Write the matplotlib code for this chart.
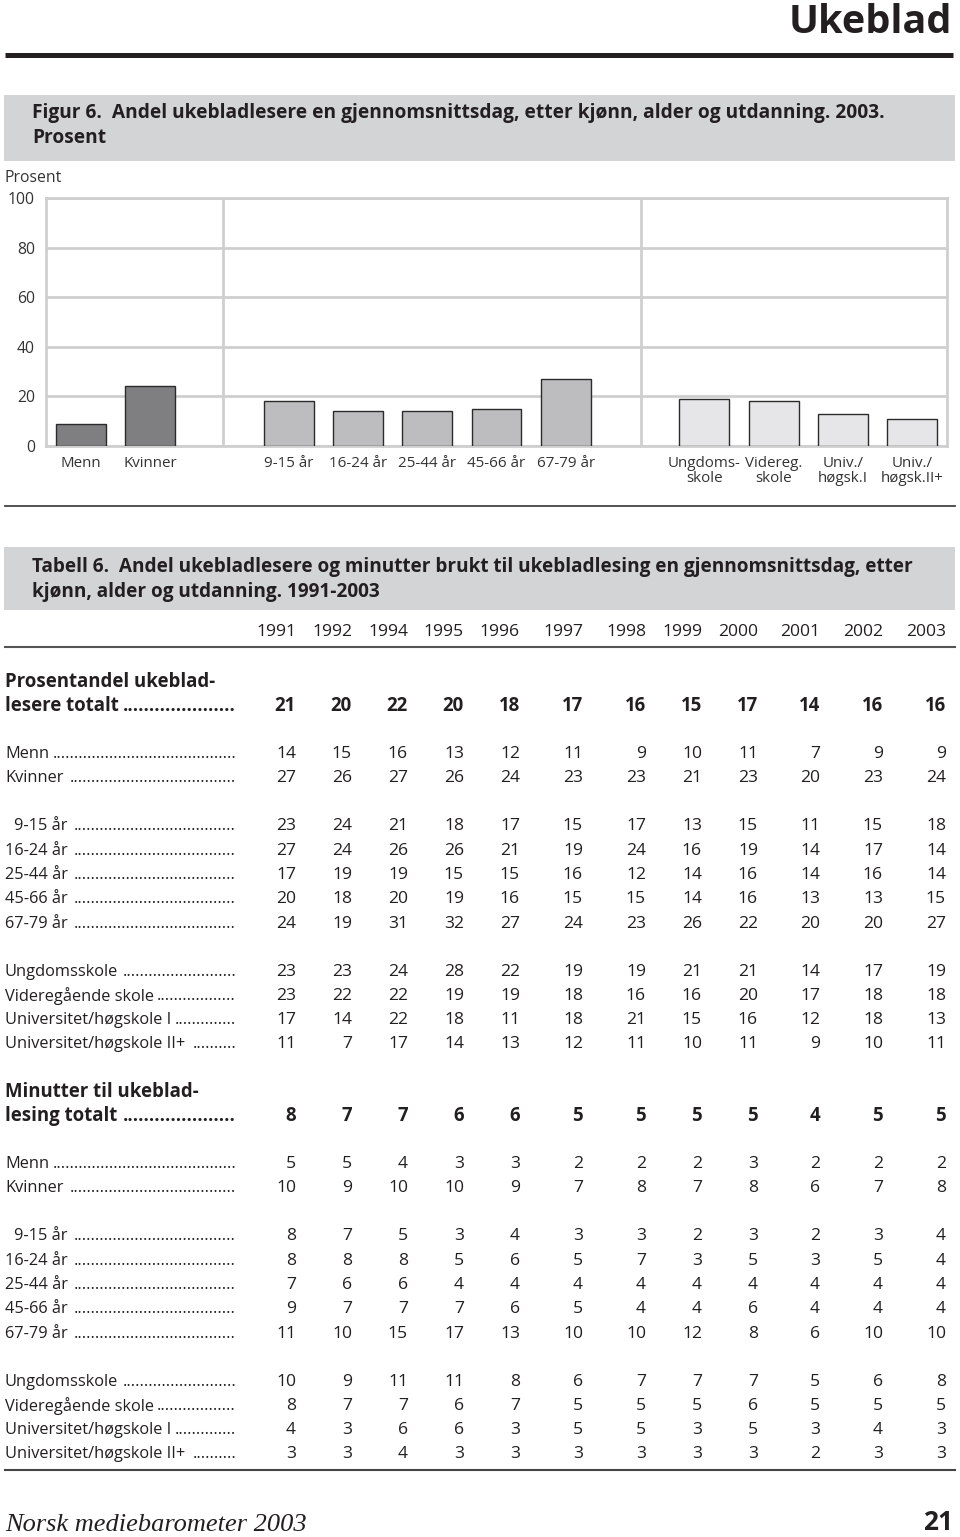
import matplotlib
matplotlib.use("Agg")
import matplotlib.pyplot as plt
from matplotlib.patches import Rectangle

# ---------------- data ----------------
chart_labels_gender = ["Menn", "Kvinner"]
chart_values_gender = [9, 24]
chart_labels_age = ["9-15 år", "16-24 år", "25-44 år", "45-66 år", "67-79 år"]
chart_values_age = [18, 14, 14, 15, 27]
chart_labels_edu = ["Ungdoms-\nskole", "Videreg.\nskole", "Univ./\nhøgsk.I", "Univ./\nhøgsk.II+"]
chart_values_edu = [19, 18, 13, 11]
y_ticks = [0, 20, 40, 60, 80, 100]

years = ["1991", "1992", "1994", "1995", "1996", "1997", "1998", "1999", "2000", "2001", "2002", "2003"]

pct_total = [21, 20, 22, 20, 18, 17, 16, 15, 17, 14, 16, 16]
pct_menn = [14, 15, 16, 13, 12, 11, 9, 10, 11, 7, 9, 9]
pct_kvinner = [27, 26, 27, 26, 24, 23, 23, 21, 23, 20, 23, 24]
pct_9_15 = [23, 24, 21, 18, 17, 15, 17, 13, 15, 11, 15, 18]
pct_16_24 = [27, 24, 26, 26, 21, 19, 24, 16, 19, 14, 17, 14]
pct_25_44 = [17, 19, 19, 15, 15, 16, 12, 14, 16, 14, 16, 14]
pct_45_66 = [20, 18, 20, 19, 16, 15, 15, 14, 16, 13, 13, 15]
pct_67_79 = [24, 19, 31, 32, 27, 24, 23, 26, 22, 20, 20, 27]
pct_ungdom = [23, 23, 24, 28, 22, 19, 19, 21, 21, 14, 17, 19]
pct_vgs = [23, 22, 22, 19, 19, 18, 16, 16, 20, 17, 18, 18]
pct_uni1 = [17, 14, 22, 18, 11, 18, 21, 15, 16, 12, 18, 13]
pct_uni2 = [11, 7, 17, 14, 13, 12, 11, 10, 11, 9, 10, 11]

min_total = [8, 7, 7, 6, 6, 5, 5, 5, 5, 4, 5, 5]
min_menn = [5, 5, 4, 3, 3, 2, 2, 2, 3, 2, 2, 2]
min_kvinner = [10, 9, 10, 10, 9, 7, 8, 7, 8, 6, 7, 8]
min_9_15 = [8, 7, 5, 3, 4, 3, 3, 2, 3, 2, 3, 4]
min_16_24 = [8, 8, 8, 5, 6, 5, 7, 3, 5, 3, 5, 4]
min_25_44 = [7, 6, 6, 4, 4, 4, 4, 4, 4, 4, 4, 4]
min_45_66 = [9, 7, 7, 7, 6, 5, 4, 4, 6, 4, 4, 4]
min_67_79 = [11, 10, 15, 17, 13, 10, 10, 12, 8, 6, 10, 10]
min_ungdom = [10, 9, 11, 11, 8, 6, 7, 7, 7, 5, 6, 8]
min_vgs = [8, 7, 7, 6, 7, 5, 5, 5, 6, 5, 5, 5]
min_uni1 = [4, 3, 6, 6, 3, 5, 5, 3, 5, 3, 4, 3]
min_uni2 = [3, 3, 4, 3, 3, 3, 3, 3, 3, 2, 3, 3]

# ---------------- style ----------------
SANS = ["Open Sans", "DejaVu Sans"]
TXT = "#231f20"
GRAYBOX = "#d3d4d6"
FS_LAB = 11.8    # row labels
FS_NUM = 12.6    # numbers / years
FSB = 13.4       # bold rows

W, H = 960, 1537
fig = plt.figure(figsize=(W / 100, H / 100), dpi=100)
ax0 = fig.add_axes([0, 0, 1, 1])
ax0.set_xlim(0, W)
ax0.set_ylim(H, 0)
ax0.axis("off")
renderer = fig.canvas.get_renderer()

# header
ax0.text(952, 33, "Ukeblad", ha="right", va="baseline", fontsize=28.5, fontweight="bold",
         family=SANS, color=TXT)
ax0.plot([5, 953], [54.5, 54.5], color=TXT, lw=3.6, solid_capstyle="butt")

# figure title box
ax0.add_patch(Rectangle((4, 95), 951, 66, facecolor=GRAYBOX, edgecolor="none"))
ax0.text(32, 113, "Figur 6.  Andel ukebladlesere en gjennomsnittsdag, etter kjønn, alder og utdanning. 2003.",
         ha="left", va="center", fontsize=13.8, fontweight="bold", family=SANS, color=TXT)
ax0.text(32, 138, "Prosent", ha="left", va="center", fontsize=13.8, fontweight="bold",
         family=SANS, color=TXT)

ax0.text(5, 178, "Prosent", ha="left", va="center", fontsize=11.3, family=SANS, color="#333333")

# ---------------- bar chart ----------------
ax = fig.add_axes([46 / W, 1 - 446 / H, (947 - 46) / W, (446 - 198) / H])
pos_gender = [0, 1]
pos_age = [3, 4, 5, 6, 7]
pos_edu = [9, 10, 11, 12]
bw = 0.72
ax.bar(pos_gender, chart_values_gender, width=bw, color="#7f7f82", edgecolor="#2b2b2b", lw=1.0, zorder=3)
ax.bar(pos_age, chart_values_age, width=bw, color="#bdbdbf", edgecolor="#2b2b2b", lw=1.0, zorder=3)
ax.bar(pos_edu, chart_values_edu, width=bw, color="#e6e6e8", edgecolor="#2b2b2b", lw=1.0, zorder=3)
ax.set_xlim(-0.5, 12.5)
ax.set_ylim(0, 100)
for yv in y_ticks:
    ax.axhline(yv, color="#cfcfcf", lw=2.0, zorder=1)
for xv in [2.05, 8.08]:
    ax.axvline(xv, color="#cfcfcf", lw=2.0, zorder=1)
for s in ax.spines.values():
    s.set_color("#cfcfcf")
    s.set_linewidth(2.0)
ax.set_yticks(y_ticks)
ax.set_yticklabels([str(v) for v in y_ticks], family=SANS, fontsize=11.3, color="#333333")
ax.set_xticks(pos_gender + pos_age + pos_edu)
ax.set_xticklabels(chart_labels_gender + chart_labels_age + chart_labels_edu,
                   family=SANS, fontsize=10.9, color="#333333", linespacing=1.05)
ax.tick_params(length=0)
ax.tick_params(axis="y", pad=8)
ax.tick_params(axis="x", pad=7)

ax0.plot([5, 955], [506, 506], color="#444444", lw=1.3)

# ---------------- table ----------------
ax0.add_patch(Rectangle((4, 547), 951, 63, facecolor=GRAYBOX, edgecolor="none"))
ax0.text(32, 567, "Tabell 6.  Andel ukebladlesere og minutter brukt til ukebladlesing en gjennomsnittsdag, etter",
         ha="left", va="center", fontsize=13.7, fontweight="bold", family=SANS, color=TXT)
ax0.text(32, 592, "kjønn, alder og utdanning. 1991-2003",
         ha="left", va="center", fontsize=13.7, fontweight="bold", family=SANS, color=TXT)

col_right = [296, 352, 408, 464, 520, 583, 646, 702, 758, 820, 883, 946]
for xr, yr in zip(col_right, years):
    ax0.text(xr, 632, yr, ha="right", va="center", fontsize=FS_NUM, family=SANS, color=TXT)
ax0.plot([5, 955], [647, 647], color="#555555", lw=1.5)

DOT_END = 236


def label_row(x, y, text, bold=False):
    kw = dict(fontsize=FSB if bold else FS_LAB, fontweight="bold" if bold else "normal",
              family=SANS, color=TXT, va="center")
    t = ax0.text(x, y, text, ha="left", **kw)
    bb = t.get_window_extent(renderer=renderer)
    probe = ax0.text(0, 0, "." * 40, ha="left", **kw)
    dw = probe.get_window_extent(renderer=renderer).width / 40
    probe.remove()
    start = bb.x1 + 3
    n = max(int((DOT_END - start) / dw), 2)
    ax0.text(DOT_END, y, "." * n, ha="right", **kw)


def values_row(y, vals, bold=False):
    for xr, v in zip(col_right, vals):
        ax0.text(xr, y, str(v), ha="right", va="center", fontsize=FSB if bold else FS_NUM,
                 fontweight="bold" if bold else "normal", family=SANS, color=TXT)


def block(y0, head1, head2, total, rows):
    ax0.text(5, y0, head1, ha="left", va="center", fontsize=FSB, fontweight="bold",
             family=SANS, color=TXT)
    label_row(5, y0 + 24, head2, bold=True)
    values_row(y0 + 24, total, bold=True)
    for (yy, xx, lab, vals) in rows:
        label_row(xx, y0 + yy, lab)
        values_row(y0 + yy, vals)


def rows_for(menn, kvinner, a1, a2, a3, a4, a5, e1, e2, e3, e4):
    return [
        (72, 5, "Menn", menn),
        (96.5, 5, "Kvinner", kvinner),
        (144.5, 14, "9-15 år", a1),
        (169, 5, "16-24 år", a2),
        (193, 5, "25-44 år", a3),
        (217, 5, "45-66 år", a4),
        (241.5, 5, "67-79 år", a5),
        (289.5, 5, "Ungdomsskole", e1),
        (314, 5, "Videregående skole", e2),
        (338, 5, "Universitet/høgskole I", e3),
        (362.5, 5, "Universitet/høgskole II+", e4),
    ]


block(682, "Prosentandel ukeblad-", "lesere totalt", pct_total,
      rows_for(pct_menn, pct_kvinner, pct_9_15, pct_16_24, pct_25_44, pct_45_66, pct_67_79,
               pct_ungdom, pct_vgs, pct_uni1, pct_uni2))
block(1092, "Minutter til ukeblad-", "lesing totalt", min_total,
      rows_for(min_menn, min_kvinner, min_9_15, min_16_24, min_25_44, min_45_66, min_67_79,
               min_ungdom, min_vgs, min_uni1, min_uni2))

ax0.plot([5, 955], [1470, 1470], color="#444444", lw=1.5)

# footer
ax0.text(5, 1536, "Norsk mediebarometer 2003", ha="left", va="bottom", fontsize=19,
         style="italic", family=["Liberation Serif", "DejaVu Serif"], color=TXT)
ax0.text(953, 1536, "21", ha="right", va="bottom", fontsize=19, fontweight="bold",
         family=SANS, color=TXT)

fig.savefig("out.png", dpi=100)
